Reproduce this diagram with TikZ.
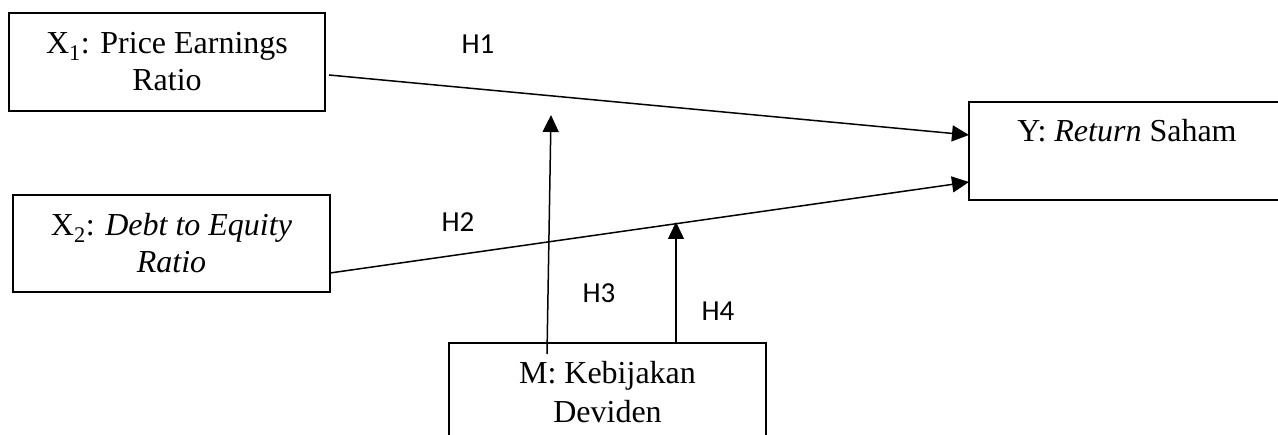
\documentclass[tikz,border=0pt]{standalone}
\usepackage{fontspec}
\setmainfont{Liberation Serif}
\newfontfamily\hfont{Carlito}
\usetikzlibrary{arrows.meta}

\tikzset{
  varbox/.style={draw=black, line width=1.5pt, rectangle, inner sep=0pt,
    align=center, font=\fontsize{32}{37}\selectfont},
  boxtext/.style={inner sep=0pt, anchor=base, font=\fontsize{32}{37}\selectfont},
  hyp/.style={inner sep=0pt, font=\hfont\fontsize{29}{32}\selectfont},
  link/.style={line width=1.5pt, -{Triangle[length=17pt,width=16pt]}}
}

\begin{document}
\begin{tikzpicture}[x=1pt, y=-1pt]
  \useasboundingbox (0,0) rectangle (1278,435);
  \clip (0,0) rectangle (1278,435);

  % variable boxes
  \node[varbox, minimum width=316pt, minimum height=98pt] (x1) at (167,62)
    {X\textsubscript{1}: Price Earnings\\Ratio};
  \node[varbox, minimum width=317pt, minimum height=97pt] (x2) at (171.5,243.5)
    {X\textsubscript{2}: \textit{Debt to Equity}\\\textit{Ratio}};
  \node[varbox, minimum width=317pt, minimum height=110pt] (m) at (607.5,398)
    {};
  \node[boxtext] (mtext) at (607.5,384) {M: Kebijakan};
  \node[boxtext] (mtext2) at (607.5,423) {Deviden};
  \node[varbox, minimum width=330pt, minimum height=98pt] (y) at (1134,151) {};
  \node[boxtext] (ytext) at (1127,142) {Y: \textit{Return} Saham};

  % connector end points
  \coordinate (s1) at (329,75);
  \coordinate (e1) at (969,135);
  \coordinate (s2) at (330,273);
  \coordinate (e2) at (969,182);
  \coordinate (s3) at (547,354);
  \coordinate (e3) at (551,115);
  \coordinate (s4) at (676,343);
  \coordinate (e4) at (676,222);

  % paths
  \draw[link] (s1) -- (e1);
  \draw[link] (s2) -- (e2);
  \draw[link] (s3) -- (e3);
  \draw[link] (s4) -- (e4);

  % hypothesis labels
  \node[hyp] (h1) at (478,44) {H1};
  \node[hyp] (h2) at (458,222) {H2};
  \node[hyp] (h3) at (599,293) {H3};
  \node[hyp] (h4) at (718,311) {H4};
\end{tikzpicture}
\end{document}
